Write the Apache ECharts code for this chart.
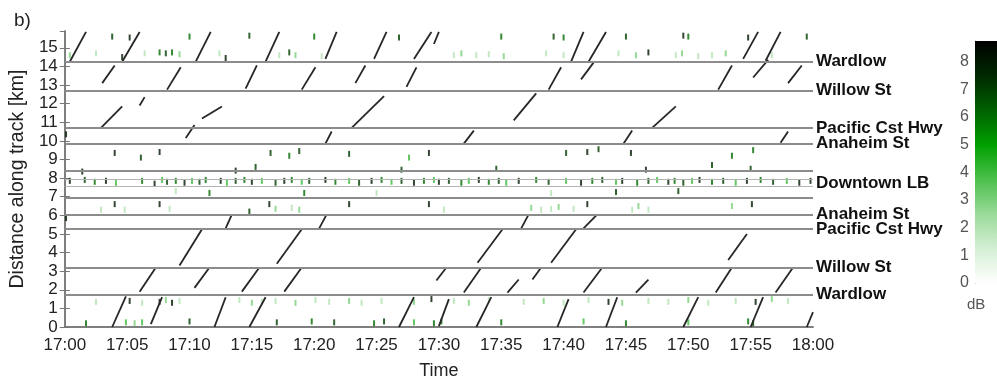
<!DOCTYPE html>
<html>
<head>
<meta charset="utf-8">
<title>b) Distance along track</title>
<script src="https://cdn.jsdelivr.net/npm/echarts@6/dist/echarts.min.js"></script>
<style>
  html, body { margin: 0; padding: 0; background: #fff; }
  #chart { width: 997px; height: 385px; }
</style>
</head>
<body>
<div id="chart"></div>
<script>
// time in minutes after 17:00, distance in km
var timeLabels = ['17:00', '17:05', '17:10', '17:15', '17:20', '17:25', '17:30',
                  '17:35', '17:40', '17:45', '17:50', '17:55', '18:00'];

// station lines [km, label]
var stations = [
    [14.25, 'Wardlow'], [12.7, 'Willow St'], [10.68, 'Pacific Cst Hwy'], [9.86, 'Anaheim St'],
    [8.42, ''], [7.96, ''], [7.55, ''], [6.96, ''],
    [6.04, 'Anaheim St'], [5.26, 'Pacific Cst Hwy'], [3.2, 'Willow St'], [1.74, 'Wardlow']
];
var downtownLabel = [7.72, 'Downtown LB'];

// train tracks, each [t0, km0, t1, km1]
var tracks0to2 = [
    [3.8, 0, 4.9, 1.65], [6.9, 0.15, 7.8, 1.6], [12.0, 0, 12.9, 1.6], [14.8, 0, 16.1, 1.6],
    [26.8, 0, 28.0, 1.6], [30.0, 0.05, 30.8, 1.5], [33.0, 0, 34.2, 1.6], [39.5, 0, 40.4, 1.5],
    [43.4, 0, 44.3, 1.6], [49.6, 0, 50.8, 1.6], [55.0, 0, 56.0, 1.6], [59.5, 0, 60, 0.8]
];
var tracks2to3 = [
    [6.0, 1.9, 7.3, 3.2], [10.4, 2.1, 11.6, 3.2], [14.2, 1.9, 15.6, 3.2], [17.6, 1.9, 19.0, 3.2],
    [29.8, 2.5, 30.6, 3.2], [32.0, 1.85, 33.4, 3.2], [35.5, 1.85, 36.4, 2.55], [37.5, 2.55, 38.2, 3.2],
    [41.6, 1.85, 43.1, 3.2], [45.8, 1.85, 46.8, 2.55], [52.2, 1.85, 53.5, 3.2], [57.0, 1.85, 58.4, 3.2]
];
var tracks3to6 = [
    [9.2, 3.3, 11.0, 5.25], [17.0, 3.4, 19.0, 5.25], [33.1, 3.45, 35.1, 5.25], [39.0, 3.45, 41.0, 5.25],
    [53.2, 3.6, 54.7, 5.0],
    [12.9, 5.3, 13.4, 6.05], [20.4, 5.3, 21.0, 6.05], [36.6, 5.3, 37.2, 6.05], [41.6, 5.3, 42.7, 6.05]
];
var tracks10to13 = [
    [9.7, 10.15, 10.4, 10.85], [20.9, 9.85, 21.4, 10.5], [32.0, 9.85, 32.8, 10.55],
    [44.8, 9.85, 45.5, 10.55], [57.4, 9.9, 58.0, 10.5],
    [2.9, 10.7, 4.6, 11.85], [6.0, 11.9, 6.4, 12.35], [11.0, 11.2, 12.6, 11.85],
    [23.0, 10.7, 25.6, 12.4], [36.0, 11.1, 37.8, 12.55], [47.1, 10.7, 49.0, 11.85]
];
var tracks13to14 = [
    [3.0, 13.1, 4.0, 14.05], [8.2, 12.75, 9.3, 13.95], [14.5, 12.8, 15.4, 14.05], [19.0, 12.75, 20.1, 13.95],
    [23.3, 13.1, 24.1, 14.05], [27.4, 12.9, 28.2, 13.95], [38.8, 12.75, 39.8, 13.95], [41.4, 13.3, 42.4, 14.2],
    [52.4, 12.75, 53.5, 14.05], [55.2, 13.4, 56.4, 14.35], [58.0, 13.1, 59.1, 14.05]
];
var tracks14to16 = [
    [0.4, 14.25, 1.7, 15.85], [4.6, 14.25, 6.0, 15.85], [10.5, 14.25, 11.7, 15.85], [16.1, 14.25, 17.2, 15.85],
    [20.9, 14.4, 21.8, 15.85], [24.8, 14.4, 25.8, 15.85], [28.0, 14.4, 29.4, 15.85], [29.6, 15.2, 30.0, 15.85],
    [40.6, 14.25, 41.6, 15.85], [42.0, 14.25, 43.4, 15.85], [54.4, 14.4, 55.6, 15.85], [56.2, 14.3, 57.4, 15.85]
];

// short detections, each [t, km, dB]
var downtownNoise = [
    [0.4, 7.85, 8], [1.6, 7.9, 7], [2.4, 7.8, 6], [3.3, 7.85, 8], [4.1, 7.75, 4], [6.2, 7.85, 6], [7.2, 7.7, 8],
    [7.8, 7.9, 4], [8.2, 7.8, 7], [8.9, 7.85, 6], [9.6, 7.75, 8], [10.2, 7.85, 4], [10.8, 7.8, 7], [11.3, 7.9, 6],
    [12.5, 7.85, 8], [13.0, 7.75, 4], [13.7, 7.85, 7], [14.4, 7.9, 6], [15.0, 7.8, 8], [15.8, 7.85, 4],
    [16.9, 7.75, 7], [17.6, 7.85, 8], [18.2, 7.9, 6], [19.0, 7.8, 4], [19.6, 7.85, 7], [20.9, 7.9, 8],
    [21.7, 7.8, 6], [22.8, 7.85, 4], [23.6, 7.75, 7], [24.6, 7.85, 8], [25.4, 7.9, 6], [26.2, 7.8, 4],
    [27.0, 7.85, 7], [28.0, 7.75, 8], [28.8, 7.85, 6], [29.6, 7.9, 4], [30.0, 7.8, 8], [30.8, 7.85, 7],
    [31.8, 7.75, 6], [32.4, 7.85, 4], [33.2, 7.9, 8], [34.0, 7.8, 6], [34.8, 7.85, 7], [35.4, 7.75, 4],
    [36.4, 7.85, 8], [37.8, 7.9, 6], [38.8, 7.8, 7], [40.2, 7.85, 4], [41.4, 7.75, 8], [42.3, 7.85, 6],
    [43.1, 7.9, 7], [44.2, 7.8, 4], [44.7, 7.85, 8], [45.9, 7.75, 6], [46.8, 7.85, 7], [47.5, 7.9, 4],
    [48.4, 7.8, 8], [48.9, 7.85, 6], [49.6, 7.75, 7], [50.3, 7.85, 4], [50.9, 7.9, 8], [51.9, 7.8, 6],
    [52.8, 7.85, 7], [53.8, 7.75, 4], [54.7, 7.85, 8], [55.8, 7.9, 6], [56.8, 7.8, 7], [57.9, 7.85, 4],
    [58.9, 7.75, 8], [59.8, 7.85, 8],
    [1.4, 8.35, 8], [13.7, 8.4, 8], [15.3, 8.6, 7], [27.0, 8.45, 7], [34.6, 8.5, 7], [46.6, 8.45, 8], [55.0, 8.5, 7],
    [11.6, 7.2, 6], [19.2, 7.2, 6], [44.2, 7.25, 7], [49.2, 7.3, 7], [8.9, 7.3, 2], [25.0, 7.2, 2], [39.0, 7.2, 2]
];
var anaheimNoise = [
    [2.9, 6.3, 2], [4.0, 6.6, 8], [4.8, 6.3, 2], [7.6, 6.6, 8], [8.4, 6.35, 2], [16.4, 6.6, 8], [16.9, 6.35, 3],
    [18.2, 6.4, 2], [18.8, 6.3, 3], [22.8, 6.6, 8], [29.2, 6.6, 8], [30.4, 6.3, 2], [37.4, 6.4, 3], [38.2, 6.3, 2],
    [39.0, 6.35, 2], [39.6, 6.45, 3], [40.8, 6.35, 2], [41.9, 6.6, 8], [45.5, 6.3, 2], [46.0, 6.5, 3],
    [46.8, 6.3, 2], [53.5, 6.5, 3], [55.1, 6.6, 8], [0.1, 5.85, 8], [14.8, 6.2, 7],
    [4.0, 9.35, 8], [6.1, 9.1, 7], [7.6, 9.4, 8], [16.5, 9.35, 7], [18.0, 9.2, 6], [18.8, 9.45, 7],
    [22.8, 9.3, 7], [27.6, 9.1, 4], [29.2, 9.35, 8], [40.2, 9.35, 7], [41.9, 9.4, 8], [42.8, 9.55, 7],
    [45.4, 9.35, 8], [51.9, 8.7, 7], [53.5, 9.2, 6], [55.2, 9.5, 6], [0.1, 10.35, 8]
];
var wardlowNoise = [
    [2.5, 1.35, 2], [5.2, 1.4, 8], [6.2, 1.3, 2], [7.6, 1.35, 8], [8.1, 1.45, 3], [8.6, 1.3, 8], [9.2, 1.4, 2],
    [14.0, 1.45, 2], [15.0, 1.3, 3], [15.8, 1.35, 2], [16.9, 1.4, 2], [18.5, 1.3, 3], [20.1, 1.45, 2],
    [21.2, 1.35, 2], [22.8, 1.4, 3], [23.8, 1.3, 2], [25.4, 1.4, 2], [28.0, 1.35, 3], [29.4, 1.5, 8],
    [31.2, 1.4, 2], [32.4, 1.3, 3], [34.0, 1.45, 2], [36.8, 1.35, 2], [38.4, 1.4, 3], [40.0, 1.3, 2],
    [42.0, 1.45, 2], [43.6, 1.35, 8], [44.7, 1.3, 3], [46.8, 1.4, 2], [48.4, 1.35, 2], [50.0, 1.45, 3],
    [51.6, 1.3, 2], [53.8, 1.4, 2], [55.4, 1.35, 8], [56.7, 1.5, 3], [58.0, 1.4, 2],
    [0.4, 14.6, 3], [2.5, 14.7, 2], [4.6, 14.5, 8], [6.4, 14.7, 2], [7.6, 14.75, 6], [8.1, 14.7, 7],
    [8.6, 14.75, 6], [9.2, 14.65, 3], [12.4, 14.7, 2], [12.9, 14.45, 8], [17.2, 14.6, 2], [18.0, 14.75, 7],
    [18.5, 14.6, 3], [20.6, 14.55, 2], [31.2, 14.6, 2], [31.8, 14.7, 3], [33.0, 14.6, 2], [34.0, 14.65, 2],
    [35.2, 14.55, 3], [38.6, 14.7, 2], [40.0, 14.6, 2], [44.4, 14.7, 2], [45.8, 14.6, 3], [46.8, 14.75, 8],
    [49.0, 14.6, 2], [49.5, 14.7, 3], [50.8, 14.55, 2], [51.9, 14.6, 2], [53.0, 14.7, 3], [56.7, 14.6, 2]
];
var edgeNoise = [
    [3.8, 15.6, 7], [5.2, 15.55, 8], [10.0, 15.6, 6], [14.8, 15.65, 7], [20.0, 15.6, 6], [26.8, 15.55, 7],
    [35.0, 15.6, 6], [39.2, 15.6, 7], [40.0, 15.55, 6], [45.0, 15.6, 7], [49.6, 15.65, 8], [50.0, 15.6, 6],
    [54.8, 15.55, 8], [59.5, 15.6, 7],
    [1.7, 0.2, 6], [4.9, 0.25, 4], [5.6, 0.2, 3], [6.2, 0.25, 4], [10.0, 0.3, 7], [17.0, 0.25, 7],
    [19.8, 0.3, 6], [21.6, 0.25, 7], [24.8, 0.2, 6], [25.6, 0.3, 7], [28.0, 0.25, 4], [29.6, 0.2, 6],
    [30.2, 0.3, 6], [35.0, 0.25, 6], [41.6, 0.3, 4], [45.0, 0.2, 6], [50.0, 0.25, 4], [54.8, 0.3, 6], [55.2, 0.2, 7]
];

var dbMax = 8.75;
var dbTicks = [0, 1, 2, 3, 4, 5, 6, 7, 8];
var greens = ['#ffffff', '#d4efd4', '#99da99', '#4cc04c', '#00a000', '#006000', '#002800', '#000000'];

var font = 'Liberation Sans, Arial, sans-serif';

var allTracks = [].concat(tracks0to2, tracks2to3, tracks3to6, tracks10to13, tracks13to14, tracks14to16);
var allNoise = [].concat(downtownNoise, anaheimNoise, wardlowNoise, edgeNoise);

var stationLines = stations.map(function (s) {
    var strong = s[1] || s[0] === 8.42 || s[0] === 6.96;
    return {
        yAxis: s[0], name: s[1],
        lineStyle: { type: 'solid', color: strong ? '#8c8c8c' : '#b4b4b4', width: strong ? 2 : 1.2 }
    };
});
stationLines.push({ yAxis: downtownLabel[0], name: downtownLabel[1],
                    lineStyle: { type: 'solid', color: 'rgba(0,0,0,0)', width: 0 } });

var myChart = echarts.init(document.getElementById('chart'));
var option = {
    animation: false,
    backgroundColor: '#fff',
    title: {
        text: 'b)', left: 9, top: 6,
        textStyle: { fontFamily: font, fontSize: 19, fontWeight: 'normal', color: '#222' }
    },
    grid: [
        { left: 62, top: 31, width: 751, height: 302 },
        { left: 975, top: 41, width: 40, height: 242 }
    ],
    visualMap: {
        show: false, type: 'continuous', min: 0, max: dbMax, dimension: 2, seriesIndex: 1,
        inRange: { color: greens }
    },
    xAxis: [
        {
            type: 'value', gridIndex: 0, min: 0, max: 60, interval: 5, position: 'bottom',
            name: 'Time', nameLocation: 'middle', nameGap: 35,
            nameTextStyle: { fontFamily: font, fontSize: 18, color: '#222' },
            axisLine: { lineStyle: { color: '#777', width: 1.5 } },
            axisTick: { show: false },
            splitLine: { show: false },
            axisLabel: {
                fontFamily: font, fontSize: 17, color: '#222', margin: 10,
                formatter: function (v) { return timeLabels[Math.round(v / 5)]; }
            }
        },
        {
            type: 'value', gridIndex: 0, min: 0, max: 60, position: 'top',
            axisLine: { lineStyle: { color: '#777', width: 1.5 } },
            axisTick: { show: false }, axisLabel: { show: false }, splitLine: { show: false }
        },
        {
            type: 'category', gridIndex: 1, data: ['dB'], show: false
        }
    ],
    yAxis: [
        {
            type: 'value', gridIndex: 0, min: 0, max: 15.9, interval: 1,
            name: 'Distance along track [km]', nameLocation: 'middle', nameGap: 35,
            nameTextStyle: { fontFamily: font, fontSize: 19.5, color: '#222' },
            axisLine: { show: true, lineStyle: { color: '#777', width: 1.5 } },
            axisTick: { show: true, inside: true, length: 5, lineStyle: { color: '#777' } },
            splitLine: { show: false },
            axisLabel: { fontFamily: font, fontSize: 17, color: '#222', margin: 7, showMaxLabel: false }
        },
        {
            type: 'value', gridIndex: 0, min: 0, max: 15.9, interval: 1, position: 'right',
            axisLine: { show: true, lineStyle: { color: '#777', width: 1.5 } },
            axisTick: { show: true, inside: true, length: 5, lineStyle: { color: '#777' } },
            axisLabel: { show: false }, splitLine: { show: false }
        },
        {
            type: 'value', gridIndex: 1, min: 0, max: dbMax, interval: 1, position: 'left',
            name: 'dB', nameLocation: 'start', nameGap: 14,
            nameTextStyle: { fontFamily: font, fontSize: 15, color: '#555', align: 'left', padding: [0, 0, 0, -8] },
            axisLine: { show: true, lineStyle: { color: '#999', width: 1 } },
            axisTick: { show: false },
            splitLine: { show: false },
            axisLabel: {
                fontFamily: font, fontSize: 16, color: '#555', margin: 6, showMaxLabel: false,
                formatter: function (v) { return dbTicks.indexOf(v) >= 0 ? String(v) : ''; }
            }
        }
    ],
    series: [
        {
            name: 'tracks', type: 'lines', coordinateSystem: 'cartesian2d',
            xAxisIndex: 0, yAxisIndex: 0, polyline: false, z: 3,
            lineStyle: { color: '#262626', width: 1.8, opacity: 1 },
            data: allTracks.map(function (s) { return { coords: [[s[0], s[1]], [s[2], s[3]]] }; })
        },
        {
            name: 'detections', type: 'scatter', xAxisIndex: 0, yAxisIndex: 0,
            symbol: 'rect', symbolSize: [2, 6], z: 2,
            data: allNoise
        },
        {
            name: 'stations', type: 'line', xAxisIndex: 0, yAxisIndex: 0, data: [], z: 4,
            markLine: {
                silent: true, symbol: ['none', 'none'], animation: false,
                label: {
                    show: true, position: 'end', distance: 3, formatter: '{b}',
                    fontFamily: font, fontSize: 17, fontWeight: 'bold', color: '#111'
                },
                emphasis: { disabled: true },
                data: stationLines
            }
        },
        {
            name: 'colorbar', type: 'bar', xAxisIndex: 2, yAxisIndex: 2, barWidth: '100%',
            silent: true, data: [dbMax],
            itemStyle: {
                color: {
                    type: 'linear', x: 0, y: 1, x2: 0, y2: 0,
                    colorStops: greens.map(function (c, i) { return { offset: i / (greens.length - 1), color: c }; })
                }
            }
        }
    ]
};
myChart.setOption(option);
window.addEventListener('resize', myChart.resize);
</script>
</body>
</html>
